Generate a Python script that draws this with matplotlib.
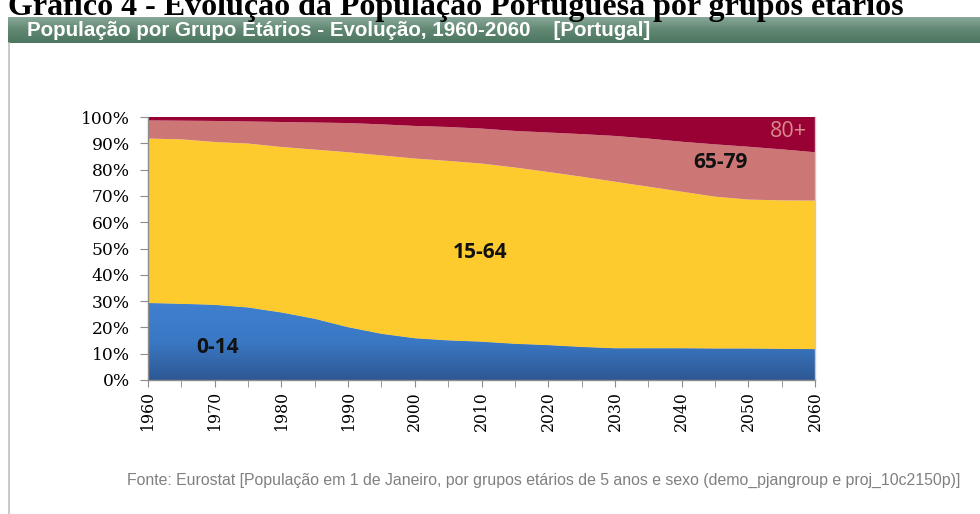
import matplotlib
matplotlib.use("Agg")
import matplotlib.pyplot as plt
import numpy as np
from matplotlib.colors import LinearSegmentedColormap
from matplotlib.ticker import MultipleLocator, FuncFormatter

# shares of population (%) by age group, Portugal
years = [1960, 1965, 1970, 1975, 1980, 1985, 1990, 1995, 2000, 2005, 2010,
         2015, 2020, 2025, 2030, 2035, 2040, 2045, 2050, 2055, 2060]
age_0_14 = [29.2, 28.9, 28.5, 27.5, 25.6, 23.2, 20.0, 17.5, 15.8, 15.0, 14.5,
            13.7, 13.2, 12.5, 12.0, 12.0, 12.0, 11.9, 11.9, 11.8, 11.7]
age_15_64 = [62.6, 62.6, 62.0, 62.4, 63.0, 64.4, 66.6, 67.9, 68.4, 68.3, 67.8,
             67.1, 65.9, 64.8, 63.4, 61.5, 59.6, 57.8, 56.7, 56.5, 56.5]
age_65_79 = [6.9, 7.1, 8.0, 8.4, 9.5, 10.3, 11.1, 11.8, 12.4, 12.9, 13.3,
             13.9, 15.0, 16.2, 17.4, 18.3, 19.0, 19.9, 20.1, 19.4, 18.4]
age_80 = [1.3, 1.4, 1.5, 1.7, 1.9, 2.1, 2.3, 2.8, 3.4, 3.8, 4.4,
          5.3, 5.9, 6.5, 7.2, 8.2, 9.4, 10.4, 11.3, 12.3, 13.4]
labels = ['0-14', '15-64', '65-79', '80+']

title_doc = 'Gráfico 4 - Evolução da População Portuguesa por grupos etários'
title_box = 'População por Grupo Etários - Evolução, 1960-2060    [Portugal]'
source = ('Fonte: Eurostat [População em 1 de Janeiro, por grupos etários de 5 anos e sexo '
          '(demo_pjangroup e proj_10c2150p)]')

colors = ['#3a78c4', '#fecb2f', '#cd7676', '#990033']

fig = plt.figure(figsize=(9.8, 5.14), dpi=100)
W, H = 980, 514

def fx(px):
    return px / W

def fy(py):
    return 1 - py / H

# document heading, cut off at the top
fig.text(fx(8), fy(15), title_doc, fontfamily='Liberation Serif', fontweight='bold',
         fontsize=23, ha='left', va='baseline', color='black')

# green banner with gradient
ban = fig.add_axes([fx(8), fy(43), 1 - fx(8), (43 - 17) / H])
ban.set_axis_off()
grad = np.linspace(0, 1, 50).reshape(-1, 1)
green = LinearSegmentedColormap.from_list('g', ['#89a899', '#5f8772', '#4d7661'])
ban.imshow(grad, aspect='auto', cmap=green, extent=[0, 1, 0, 1])
ban.set_xlim(0, 1)
ban.set_ylim(0, 1)
fig.text(fx(27), fy(30.5), title_box, fontfamily=['Liberation Sans Narrow', 'Liberation Sans'],
         fontweight='bold', fontsize=14.8, color='white', ha='left', va='center')

# left gray border
fig.add_artist(plt.Line2D([fx(8.5), fx(8.5)], [fy(43), fy(514)], color='#c0c0c0', lw=1.2))

# main chart
ax = fig.add_axes([fx(148), fy(380), fx(815) - fx(148), (380 - 117) / H])
polys = ax.stackplot(years, age_0_14, age_15_64, age_65_79, age_80, colors=colors,
                     linewidth=0)

# vertical gradient on the 0-14 area
blue = LinearSegmentedColormap.from_list('b', ['#2e5894', '#3a78c4', '#3f80cf'])
im = ax.imshow(np.linspace(0, 1, 100).reshape(-1, 1), aspect='auto', cmap=blue,
               extent=[years[0], years[-1], 0, max(age_0_14)], origin='lower', zorder=2)
im.set_clip_path(polys[0].get_paths()[0], ax.transData)

ax.set_xlim(1960, 2060)
ax.set_ylim(0, 100)
ax.xaxis.set_major_locator(MultipleLocator(10))
ax.xaxis.set_minor_locator(MultipleLocator(5))
ax.yaxis.set_major_locator(MultipleLocator(10))
ax.yaxis.set_major_formatter(FuncFormatter(lambda v, p: f'{int(v)}%'))
ax.spines['top'].set_visible(False)
for s in ['left', 'bottom', 'right']:
    ax.spines[s].set_color('#8c8c8c')
    ax.spines[s].set_linewidth(1.0)
ax.spines['right'].set_color('#c8c8c8')
ax.tick_params(axis='y', which='major', length=6, color='#8c8c8c', pad=7,
               labelsize=12.3, labelfontfamily='DejaVu Serif')
ax.tick_params(axis='x', which='major', length=5, color='#8c8c8c', pad=3,
               labelsize=11.3, labelfontfamily='DejaVu Serif', labelrotation=90)
ax.tick_params(axis='x', which='minor', length=5, color='#8c8c8c')

lab_font = ['Open Sans', 'DejaVu Sans']
ax.text(1970.5, 12.3, labels[0], fontfamily=lab_font, fontweight='bold', fontsize=15,
        ha='center', va='center', color='#111111', zorder=3)
ax.text(2009.8, 48.5, labels[1], fontfamily=lab_font, fontweight='bold', fontsize=15,
        ha='center', va='center', color='#111111', zorder=3)
ax.text(2045.8, 82.8, labels[2], fontfamily=lab_font, fontweight='bold', fontsize=15,
        ha='center', va='center', color='#111111', zorder=3)
ax.text(2056, 94.6, labels[3], fontfamily=lab_font, fontsize=15.5,
        ha='center', va='center', color='#d88a8a', zorder=3)

# source line
fig.text(fx(127), fy(480), source, fontfamily=['Liberation Sans Narrow', 'Liberation Sans'],
         fontsize=11.4, color='#808080', ha='left', va='center')

fig.savefig('out.png', dpi=100, facecolor='white')
